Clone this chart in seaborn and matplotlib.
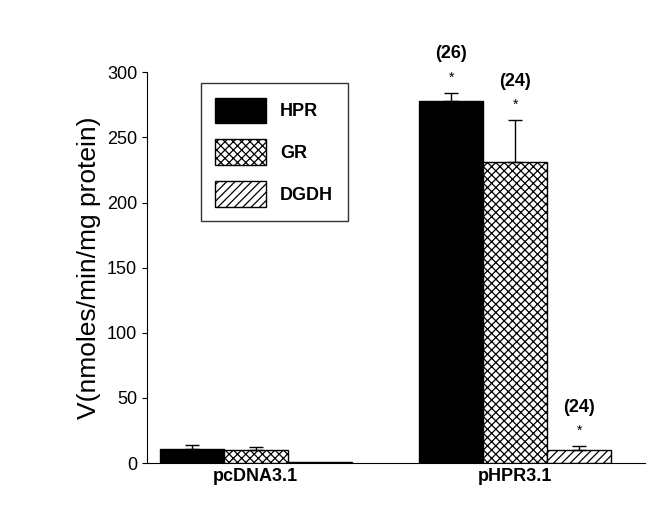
import seaborn as sns
import numpy as np
import pandas as pd
import matplotlib.pyplot as plt

groups = ["pcDNA3.1", "pHPR3.1"]
enzymes = ["HPR", "GR", "DGDH"]
values = {
    "HPR": [11, 278],
    "GR": [10, 231],
    "DGDH": [0.5, 10],
}
errors = {
    "HPR": [3, 6],
    "GR": [2, 32],
    "DGDH": [0, 3],
}
n_labels = {("pHPR3.1", "HPR"): "(26)", ("pHPR3.1", "GR"): "(24)", ("pHPR3.1", "DGDH"): "(24)"}

rows = [(g, e, values[e][i]) for e in enzymes for i, g in enumerate(groups)]
df = pd.DataFrame(rows, columns=["group", "enzyme", "value"])

sns.set_style("ticks")
plt.rcParams["font.family"] = ["Liberation Sans", "DejaVu Sans"]
plt.rcParams["hatch.linewidth"] = 0.9
for k in ["text.color", "axes.labelcolor", "xtick.color", "ytick.color", "axes.edgecolor"]:
    plt.rcParams[k] = "black"

fig = plt.figure(figsize=(6.5, 5.05), dpi=100)
ax = fig.add_axes([0.226, 0.083, 0.766, 0.774])
sns.barplot(data=df, x="group", y="value", hue="enzyme", order=groups,
            hue_order=enzymes, width=0.74, edgecolor="black", linewidth=1,
            errorbar=None, ax=ax)

styles = {"HPR": ("black", ""), "GR": ("white", "xxxx"), "DGDH": ("white", "////")}
for cont, e in zip(ax.containers, enzymes):
    fc, h = styles[e]
    for i, bar in enumerate(cont):
        bar.set_facecolor(fc)
        bar.set_hatch(h)
        x = bar.get_x() + bar.get_width() / 2
        top = bar.get_height()
        err = errors[e][i]
        if err > 0:
            ax.errorbar(x, top, yerr=[[0], [err]], color="black", capsize=5,
                        elinewidth=1, capthick=1)
        lab = n_labels.get((groups[i], e))
        if lab:
            ystar = top + err + 12
            ax.text(x, ystar, "*", ha="center", va="center", fontsize=10)
            ax.text(x, ystar + 18, lab, ha="center", va="center",
                    fontsize=13, fontweight="bold", clip_on=False)

ax.set_xlim(-0.42, 1.5)
ax.set_ylim(0, 300)
ax.set_yticks(range(0, 301, 50))
ax.set_xlabel("")
ax.set_ylabel("V(nmoles/min/mg protein)", fontsize=19)
ax.tick_params(axis="y", labelsize=13, direction="out")
ax.tick_params(axis="x", labelsize=13, length=0)
for t in ax.get_xticklabels():
    t.set_fontweight("bold")
sns.despine(ax=ax)

leg = ax.legend(loc="upper left", bbox_to_anchor=(0.09, 0.995), frameon=True,
                fancybox=False, edgecolor="black", fontsize=13, handlelength=2.8,
                handleheight=1.8, labelspacing=0.9, borderpad=0.8)
for handle, e in zip(leg.legend_handles, enzymes):
    fc, h = styles[e]
    handle.set_facecolor(fc)
    handle.set_hatch(h)
    handle.set_edgecolor("black")
for t in leg.get_texts():
    t.set_fontweight("bold")

fig.savefig("out.png", dpi=100)
